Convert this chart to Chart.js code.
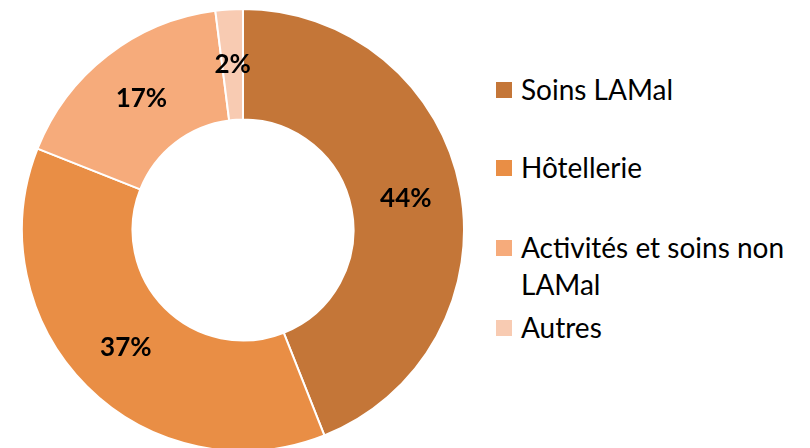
<!DOCTYPE html>
<html>
<head>
<meta charset="utf-8">
<script src="https://cdn.jsdelivr.net/npm/chart.js@4/dist/chart.umd.min.js"></script>
<style>
  html, body { margin: 0; padding: 0; background: #fff; width: 810px; height: 448px; overflow: hidden; }
  #wrap { position: absolute; left: 21px; top: 8px; width: 444px; height: 444px; }
  #legend { position: absolute; left: 496px; top: 0; width: 312px; font-family: Lato, "Open Sans", sans-serif; font-size: 28px; color: #000; }
  .item { position: absolute; left: 0; display: flex; align-items: flex-start; line-height: 37px; white-space: normal; }
  .box { width: 16px; height: 16px; margin-top: 11px; margin-right: 9px; flex: none; }
</style>
</head>
<body>
<div id="wrap"><canvas id="donut"></canvas></div>
<div id="legend"></div>
<script>
const categories = ["Soins LAMal", "Hôtellerie", "Activités et soins non LAMal", "Autres"];
const shares = [44, 37, 17, 2];
const colors = ["#C47638", "#E98E45", "#F6AB7B", "#F8CBB2"];
const legendTops = [71, 149, 229, 309];

// pourcentages au milieu de chaque secteur
const sliceLabels = {
  id: "sliceLabels",
  afterDatasetsDraw(chart) {
    const ctx = chart.ctx;
    const meta = chart.getDatasetMeta(0);
    ctx.save();
    ctx.font = "bold 26px Lato, 'Open Sans', sans-serif";
    ctx.fillStyle = "#000";
    ctx.textAlign = "center";
    ctx.textBaseline = "middle";
    meta.data.forEach((arc, i) => {
      const p = arc.tooltipPosition();
      ctx.fillText(shares[i] + "%", p.x, p.y);
    });
    ctx.restore();
  }
};

new Chart(document.getElementById("donut"), {
  type: "doughnut",
  data: {
    labels: categories,
    datasets: [{
      data: shares,
      backgroundColor: colors,
      borderColor: "#fff",
      borderWidth: 2
    }]
  },
  options: {
    responsive: true,
    maintainAspectRatio: false,
    animation: false,
    cutout: "50%",
    layout: { padding: 0 },
    plugins: {
      legend: { display: false },
      tooltip: { enabled: false }
    }
  },
  plugins: [sliceLabels]
});

// légende à droite
const legend = document.getElementById("legend");
categories.forEach((name, i) => {
  const item = document.createElement("div");
  item.className = "item";
  item.style.top = legendTops[i] + "px";
  const box = document.createElement("span");
  box.className = "box";
  box.style.background = colors[i];
  const txt = document.createElement("span");
  txt.textContent = name;
  item.appendChild(box);
  item.appendChild(txt);
  legend.appendChild(item);
});
</script>
</body>
</html>
